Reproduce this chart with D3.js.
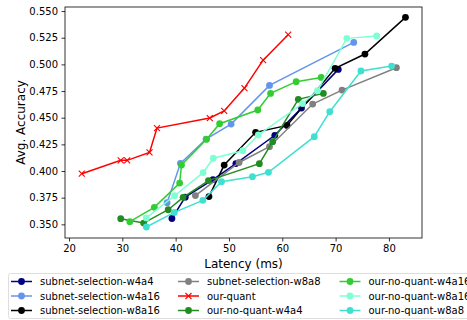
<!DOCTYPE html>
<html>
<head>
<meta charset="utf-8">
<script src="https://cdn.jsdelivr.net/npm/d3@7"></script>
<style>
  body { margin: 0; background: #fff; }
  svg { display: block; font-family: "DejaVu Sans", sans-serif; }
</style>
</head>
<body>
<div id="chart"></div>
<script>
// values: [latency ms, avg accuracy]
var subnetW4a4 = [[39.3,0.3555],[41.8,0.3755],[47.0,0.3920],[51.3,0.4070],[58.6,0.4335],[63.6,0.4590],[70.5,0.4953]];
var subnetW4a16 = [[38.4,0.3703],[40.9,0.4072],[45.7,0.4300],[50.4,0.4440],[57.6,0.4803],[73.4,0.5206]];
var subnetW8a16 = [[46.25,0.3760],[49.1,0.4056],[55.0,0.4363],[60.9,0.4428],[69.9,0.4963],[75.5,0.5097],[83.1,0.5441]];
var subnetW8a8 = [[43.7,0.3770],[51.9,0.4080],[57.6,0.4228],[65.7,0.4628],[71.2,0.4759],[81.4,0.4969]];
var ourQuant = [[22.4,0.3975],[29.7,0.4100],[30.9,0.4100],[35.1,0.4175],[36.5,0.4403],[46.4,0.4497],[49.1,0.4563],[52.9,0.4778],[56.4,0.5040],[61.1,0.5278]];
var noQuantW4a4 = [[29.7,0.3553],[34.0,0.3512],[38.6,0.3637],[41.4,0.3753],[46.15,0.3910],[55.7,0.4069],[58.2,0.4275],[63.0,0.4672],[67.7,0.4728]];
var noQuantW4a16 = [[31.4,0.3525],[36.0,0.3660],[40.75,0.3887],[41.1,0.4056],[45.8,0.4297],[48.25,0.4444],[55.4,0.4572],[57.8,0.4728],[62.6,0.4838],[67.3,0.4878]];
var noQuantW8a16 = [[34.5,0.3560],[39.8,0.3768],[45.15,0.3985],[47.05,0.4120],[52.6,0.4190],[55.5,0.4338],[63.8,0.4632],[66.6,0.4753],[72.1,0.5244],[77.7,0.5266]];
var noQuantW8a8 = [[34.5,0.3475],[39.75,0.3612],[45.1,0.3725],[48.6,0.3900],[54.4,0.3947],[57.4,0.3988],[66.0,0.4322],[68.9,0.4556],[74.75,0.4938],[80.5,0.4984]];

var seriesNames = ["subnet-selection-w4a4","subnet-selection-w4a16","subnet-selection-w8a16","subnet-selection-w8a8","our-quant","our-no-quant-w4a4","our-no-quant-w4a16","our-no-quant-w8a16","our-no-quant-w8a8"];
var seriesData = [subnetW4a4, subnetW4a16, subnetW8a16, subnetW8a8, ourQuant, noQuantW4a4, noQuantW4a16, noQuantW8a16, noQuantW8a8];
var seriesColors = ["#000080","#6495ED","#000000","#808080","#FF0000","#228B22","#32CD32","#7FFFD4","#40E0D0"];
var seriesMarkers = ["o","o","o","o","x","o","o","o","o"];

var xTicks = [20,30,40,50,60,70,80];
var yTicks = [0.350,0.375,0.400,0.425,0.450,0.475,0.500,0.525,0.550];

var W = 467, H = 320;
var plotL = 65, plotR = 422, plotT = 7, plotB = 238;

var svg = d3.select("#chart").append("svg")
    .attr("width", W).attr("height", H);

var x = d3.scaleLinear().domain([19.25, 86.2]).range([plotL, plotR]);
var y = d3.scaleLinear().domain([0.3372, 0.5538]).range([plotB, plotT]);

// axes
var xAxis = svg.append("g")
    .attr("transform", "translate(0," + plotB + ")")
    .call(d3.axisBottom(x).tickValues(xTicks).tickSize(3.5).tickPadding(3.5).tickFormat(d3.format("d")));
var yAxis = svg.append("g")
    .attr("transform", "translate(" + plotL + ",0)")
    .call(d3.axisLeft(y).tickValues(yTicks).tickSize(3.5).tickPadding(3.5).tickFormat(d3.format(".3f")));
[xAxis, yAxis].forEach(function(a){
    a.select(".domain").remove();
    a.selectAll("text").attr("font-size", 10).attr("fill", "#000").attr("font-family", "DejaVu Sans");
    a.selectAll("line").attr("stroke", "#000").attr("stroke-width", 0.8);
});

svg.append("text")
    .attr("x", (plotL + plotR) / 2).attr("y", 268)
    .attr("text-anchor", "middle").attr("font-size", 12)
    .text("Latency (ms)");
svg.append("text")
    .attr("transform", "translate(25," + ((plotT + plotB) / 2) + ") rotate(-90)")
    .attr("text-anchor", "middle").attr("font-size", 12)
    .text("Avg. Accuracy");

var plot = svg.append("g");
var line = d3.line().x(function(d){ return x(d[0]); }).y(function(d){ return y(d[1]); });

function drawMarker(g, kind, cx, cy, color){
    if(kind === "x"){
        var s = 3;
        g.append("path")
            .attr("d", "M" + (cx - s) + "," + (cy - s) + "L" + (cx + s) + "," + (cy + s) +
                       "M" + (cx - s) + "," + (cy + s) + "L" + (cx + s) + "," + (cy - s))
            .attr("stroke", color).attr("stroke-width", 1.1).attr("fill", "none");
    } else {
        g.append("circle").attr("cx", cx).attr("cy", cy).attr("r", 3.4).attr("fill", color);
    }
}

for(var i = 0 ; i < seriesData.length ; i ++){
    var g = plot.append("g");
    g.append("path")
        .datum(seriesData[i])
        .attr("d", line)
        .attr("fill", "none")
        .attr("stroke", seriesColors[i])
        .attr("stroke-width", 1.5);
    seriesData[i].forEach(function(d){
        drawMarker(g, seriesMarkers[i], x(d[0]), y(d[1]), seriesColors[i]);
    });
}

// frame
svg.append("rect")
    .attr("x", plotL).attr("y", plotT)
    .attr("width", plotR - plotL).attr("height", plotB - plotT)
    .attr("fill", "none").attr("stroke", "#000").attr("stroke-width", 0.8);

// legend
var legend = svg.append("g");
legend.append("rect")
    .attr("x", 8.5).attr("y", 273.5).attr("width", 470).attr("height", 45)
    .attr("rx", 2).attr("fill", "#fff").attr("fill-opacity", 0.8)
    .attr("stroke", "#d6d6d6").attr("stroke-width", 0.8);
var colX = [11, 178, 339.5];
var rowY = [281.5, 296, 310.5];
for(var i = 0 ; i < seriesNames.length ; i ++){
    var cx = colX[Math.floor(i / 3)], cy = rowY[i % 3];
    var lg = legend.append("g");
    lg.append("line")
        .attr("x1", cx).attr("x2", cx + 21).attr("y1", cy).attr("y2", cy)
        .attr("stroke", seriesColors[i]).attr("stroke-width", 1.5);
    drawMarker(lg, seriesMarkers[i], cx + 10.5, cy, seriesColors[i]);
    lg.append("text")
        .attr("x", cx + 29).attr("y", cy + 3.6)
        .attr("font-size", 10).attr("fill", "#000")
        .text(seriesNames[i]);
}
</script>
</body>
</html>
